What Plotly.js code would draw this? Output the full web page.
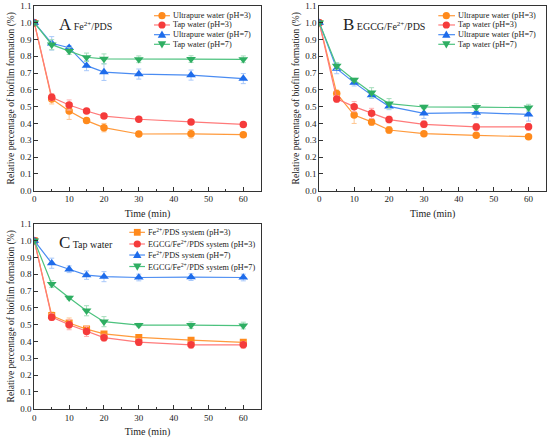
<!DOCTYPE html>
<html>
<head>
<meta charset="utf-8">
<script src="https://cdn.plot.ly/plotly-3.0.1.min.js"></script>
<style>html,body{margin:0;padding:0;background:#fff;}#chart{width:550px;height:439px;}</style>
</head>
<body>
<div id="chart"></div>
<script>
// ---------- data ----------
const time = [0, 5, 10, 15, 20, 30, 45, 60];

// Panel A: Fe2+/PDS
const aNames = ["Ultrapure water (pH=3)", "Tap water (pH=3)", "Ultrapure water (pH=7)", "Tap water (pH=7)"];
const aUltra3 = [1.0, 0.546, 0.474, 0.417, 0.375, 0.337, 0.338, 0.333];
const aUltra3Err = [0, 0.03, 0.05, 0.015, 0.025, 0.01, 0.025, 0.01];
const aTap3 = [1.0, 0.556, 0.51, 0.474, 0.444, 0.425, 0.409, 0.394];
const aTap3Err = [0, 0.02, 0.03, 0.012, 0.012, 0.012, 0.012, 0.012];
const aUltra7 = [1.0, 0.877, 0.851, 0.744, 0.706, 0.694, 0.688, 0.667];
const aUltra7Err = [0, 0.04, 0.012, 0.03, 0.05, 0.03, 0.03, 0.03];
const aTap7 = [1.0, 0.869, 0.831, 0.794, 0.784, 0.782, 0.783, 0.782];
const aTap7Err = [0, 0.03, 0.02, 0.025, 0.03, 0.02, 0.02, 0.02];

// Panel B: EGCG/Fe2+/PDS
const bNames = ["Ultrapure water (pH=3)", "Tap water (pH=3)", "Ultrapure water (pH=7)", "Tap water (pH=7)"];
const bUltra3 = [1.0, 0.579, 0.45, 0.409, 0.361, 0.339, 0.329, 0.321];
const bUltra3Err = [0, 0.02, 0.05, 0.02, 0.02, 0.01, 0.01, 0.01];
const bTap3 = [1.0, 0.546, 0.5, 0.46, 0.423, 0.395, 0.379, 0.38];
const bTap3Err = [0, 0.02, 0.03, 0.03, 0.02, 0.02, 0.02, 0.02];
const bUltra7 = [1.0, 0.726, 0.643, 0.569, 0.502, 0.46, 0.464, 0.454];
const bUltra7Err = [0, 0.03, 0.02, 0.02, 0.02, 0.03, 0.03, 0.04];
const bTap7 = [1.0, 0.742, 0.659, 0.583, 0.518, 0.498, 0.497, 0.494];
const bTap7Err = [0, 0.02, 0.01, 0.03, 0.03, 0.01, 0.02, 0.02];

// Panel C: Tap water
const cNames = ["Fe<sup>2+</sup>/PDS system (pH=3)", "EGCG/Fe<sup>2+</sup>/PDS system (pH=3)", "Fe<sup>2+</sup>/PDS system (pH=7)", "EGCG/Fe<sup>2+</sup>/PDS system (pH=7)"];
const cFe3 = [1.0, 0.555, 0.51, 0.474, 0.445, 0.424, 0.408, 0.395];
const cFe3Err = [0, 0.02, 0.03, 0.012, 0.012, 0.012, 0.012, 0.012];
const cEgcg3 = [1.0, 0.545, 0.5, 0.46, 0.423, 0.396, 0.38, 0.38];
const cEgcg3Err = [0, 0.02, 0.03, 0.03, 0.02, 0.02, 0.02, 0.02];
const cFe7 = [1.0, 0.866, 0.83, 0.795, 0.786, 0.781, 0.783, 0.781];
const cFe7Err = [0, 0.03, 0.02, 0.025, 0.03, 0.02, 0.02, 0.02];
const cEgcg7 = [1.0, 0.742, 0.66, 0.583, 0.518, 0.498, 0.497, 0.495];
const cEgcg7Err = [0, 0.02, 0.01, 0.03, 0.03, 0.01, 0.02, 0.02];

const panelLabels = ["A", "B", "C"];
const panelSubtitles = ["Fe<sup>2+</sup>/PDS", "EGCG/Fe<sup>2+</sup>/PDS", "Tap water"];
const xTitle = "Time (min)";
const yTitle = "Relative percentage of biofilm formation (%)";

// ---------- styles ----------
const ORANGE = {m: "#FF8A1C", l: "#FF9A3C", e: "#FFC690"};
const RED = {m: "#F53B3B", l: "#FF7A7A", e: "#FFB0B0"};
const BLUE = {m: "#1E6CEB", l: "#4A8CF2", e: "#A8C8FA"};
const GREEN = {m: "#2EAE62", l: "#4CC27E", e: "#A4DDBB"};
const FONT = "Liberation Serif, Times New Roman, serif";

function tr(y, err, col, sym, size, xa, ya, name) {
  return {
    type: "scatter", mode: "lines+markers", x: time, y: y, name: name,
    xaxis: xa, yaxis: ya, showlegend: false,
    line: {color: col.l, width: 1.2},
    marker: {color: col.m, symbol: sym, size: size},
    error_y: {type: "data", array: err, visible: true, color: col.e, thickness: 1, width: 2.5}
  };
}

const data = [
  tr(aUltra3, aUltra3Err, ORANGE, "circle", 7.5, "x", "y", aNames[0]),
  tr(aTap3, aTap3Err, RED, "circle", 7.5, "x", "y", aNames[1]),
  tr(aUltra7, aUltra7Err, BLUE, "triangle-up", 8.5, "x", "y", aNames[2]),
  tr(aTap7, aTap7Err, GREEN, "triangle-down", 8.5, "x", "y", aNames[3]),
  tr(bUltra3, bUltra3Err, ORANGE, "circle", 7.5, "x2", "y2", bNames[0]),
  tr(bTap3, bTap3Err, RED, "circle", 7.5, "x2", "y2", bNames[1]),
  tr(bUltra7, bUltra7Err, BLUE, "triangle-up", 8.5, "x2", "y2", bNames[2]),
  tr(bTap7, bTap7Err, GREEN, "triangle-down", 8.5, "x2", "y2", bNames[3]),
  tr(cFe3, cFe3Err, ORANGE, "square", 7, "x3", "y3", cNames[0]),
  tr(cEgcg3, cEgcg3Err, RED, "circle", 7.5, "x3", "y3", cNames[1]),
  tr(cFe7, cFe7Err, BLUE, "triangle-up", 8.5, "x3", "y3", cNames[2]),
  tr(cEgcg7, cEgcg7Err, GREEN, "triangle-down", 8.5, "x3", "y3", cNames[3])
];

function xaxis(domain, anchor) {
  return {
    domain: domain, anchor: anchor, range: [0, 65], tickvals: [0, 10, 20, 30, 40, 50, 60],
    ticks: "inside", ticklen: 4, tickwidth: 1, tickcolor: "#333",
    minor: {tickvals: [5, 15, 25, 35, 45, 55], ticks: "inside", ticklen: 2, tickcolor: "#333"},
    showline: true, linecolor: "#333", linewidth: 1, mirror: true,
    showgrid: false, zeroline: false,
    tickfont: {family: FONT, size: 9, color: "#222"},
    title: {text: xTitle, font: {family: FONT, size: 10, color: "#222"}, standoff: 6}
  };
}
function yaxis(domain, anchor) {
  return {
    domain: domain, anchor: anchor, range: [0, 1.1], dtick: 0.1, tickformat: ".1f",
    ticks: "inside", ticklen: 4, tickwidth: 1, tickcolor: "#333",
    showline: true, linecolor: "#333", linewidth: 1, mirror: true,
    showgrid: false, zeroline: false,
    tickfont: {family: FONT, size: 9, color: "#222"},
    title: {text: yTitle, font: {family: FONT, size: 9.5, color: "#222"}, standoff: 3}
  };
}

const rowTop = [0.5658, 0.9866];
const rowBot = [0.069, 0.490];
const colL = [0.0624, 0.474];
const colR = [0.5805, 0.9927];

const annotations = [];
const shapes = [];

// Panel labels
const labelPos = [[0.1036, 0.945], [0.6195, 0.945], [0.1045, 0.4465]];
labelPos.forEach((p, i) => {
  annotations.push({
    xref: "paper", yref: "paper", x: p[0], y: p[1], xanchor: "left", yanchor: "middle",
    showarrow: false, align: "left",
    text: "<span style='font-size:17px'>" + panelLabels[i] + "</span> " + panelSubtitles[i],
    font: {family: FONT, size: 10, color: "#222"}
  });
});

// Legends (drawn manually, compact as in the original)
const legendDefs = [
  {names: aNames, lx0: 0.280, lx1: 0.309, mx: 0.2945, tx: 0.3110, rows: [0.9642, 0.9431, 0.9210, 0.8991], syms: ["circle", "circle", "up", "down"]},
  {names: bNames, lx0: 0.7969, lx1: 0.8273, mx: 0.8115, tx: 0.8290, rows: [0.9642, 0.9431, 0.9210, 0.8991], syms: ["circle", "circle", "up", "down"]},
  {names: cNames, lx0: 0.2351, lx1: 0.2636, mx: 0.2496, tx: 0.2655, rows: [0.4708, 0.4442, 0.4191, 0.3929], syms: ["square", "circle", "up", "down"]}
];
const cols = [ORANGE, RED, BLUE, GREEN];
legendDefs.forEach(L => {
  L.names.forEach((nm, k) => {
    const y = L.rows[k], c = cols[k];
    shapes.push({type: "line", xref: "paper", yref: "paper", x0: L.lx0, x1: L.lx1, y0: y, y1: y, line: {color: c.l, width: 1.2}});
    const base = {xref: "paper", yref: "paper", xsizemode: "pixel", ysizemode: "pixel", xanchor: L.mx, yanchor: y, fillcolor: c.m, line: {width: 0}};
    if (L.syms[k] === "circle") shapes.push(Object.assign({type: "circle", x0: -3.6, x1: 3.6, y0: -3.6, y1: 3.6}, base));
    else if (L.syms[k] === "square") shapes.push(Object.assign({type: "rect", x0: -3.4, x1: 3.4, y0: -3.4, y1: 3.4}, base));
    else if (L.syms[k] === "up") shapes.push(Object.assign({type: "path", path: "M-4.2,-3L4.2,-3L0,4.2Z"}, base));
    else shapes.push(Object.assign({type: "path", path: "M-4.2,3L4.2,3L0,-4.2Z"}, base));
    annotations.push({
      xref: "paper", yref: "paper", x: L.tx, y: y, xanchor: "left", yanchor: "middle",
      showarrow: false, align: "left", text: nm, font: {family: FONT, size: 8.2, color: "#222"}
    });
  });
});

const layout = {
  width: 550, height: 439,
  margin: {l: 0, r: 0, t: 0, b: 0},
  paper_bgcolor: "#fff", plot_bgcolor: "#fff",
  showlegend: false,
  xaxis: xaxis(colL, "y"), yaxis: yaxis(rowTop, "x"),
  xaxis2: xaxis(colR, "y2"), yaxis2: yaxis(rowTop, "x2"),
  xaxis3: xaxis(colL, "y3"), yaxis3: yaxis(rowBot, "x3"),
  annotations: annotations, shapes: shapes
};

Plotly.newPlot("chart", data, layout, {staticPlot: true, displayModeBar: false});
</script>
</body>
</html>
